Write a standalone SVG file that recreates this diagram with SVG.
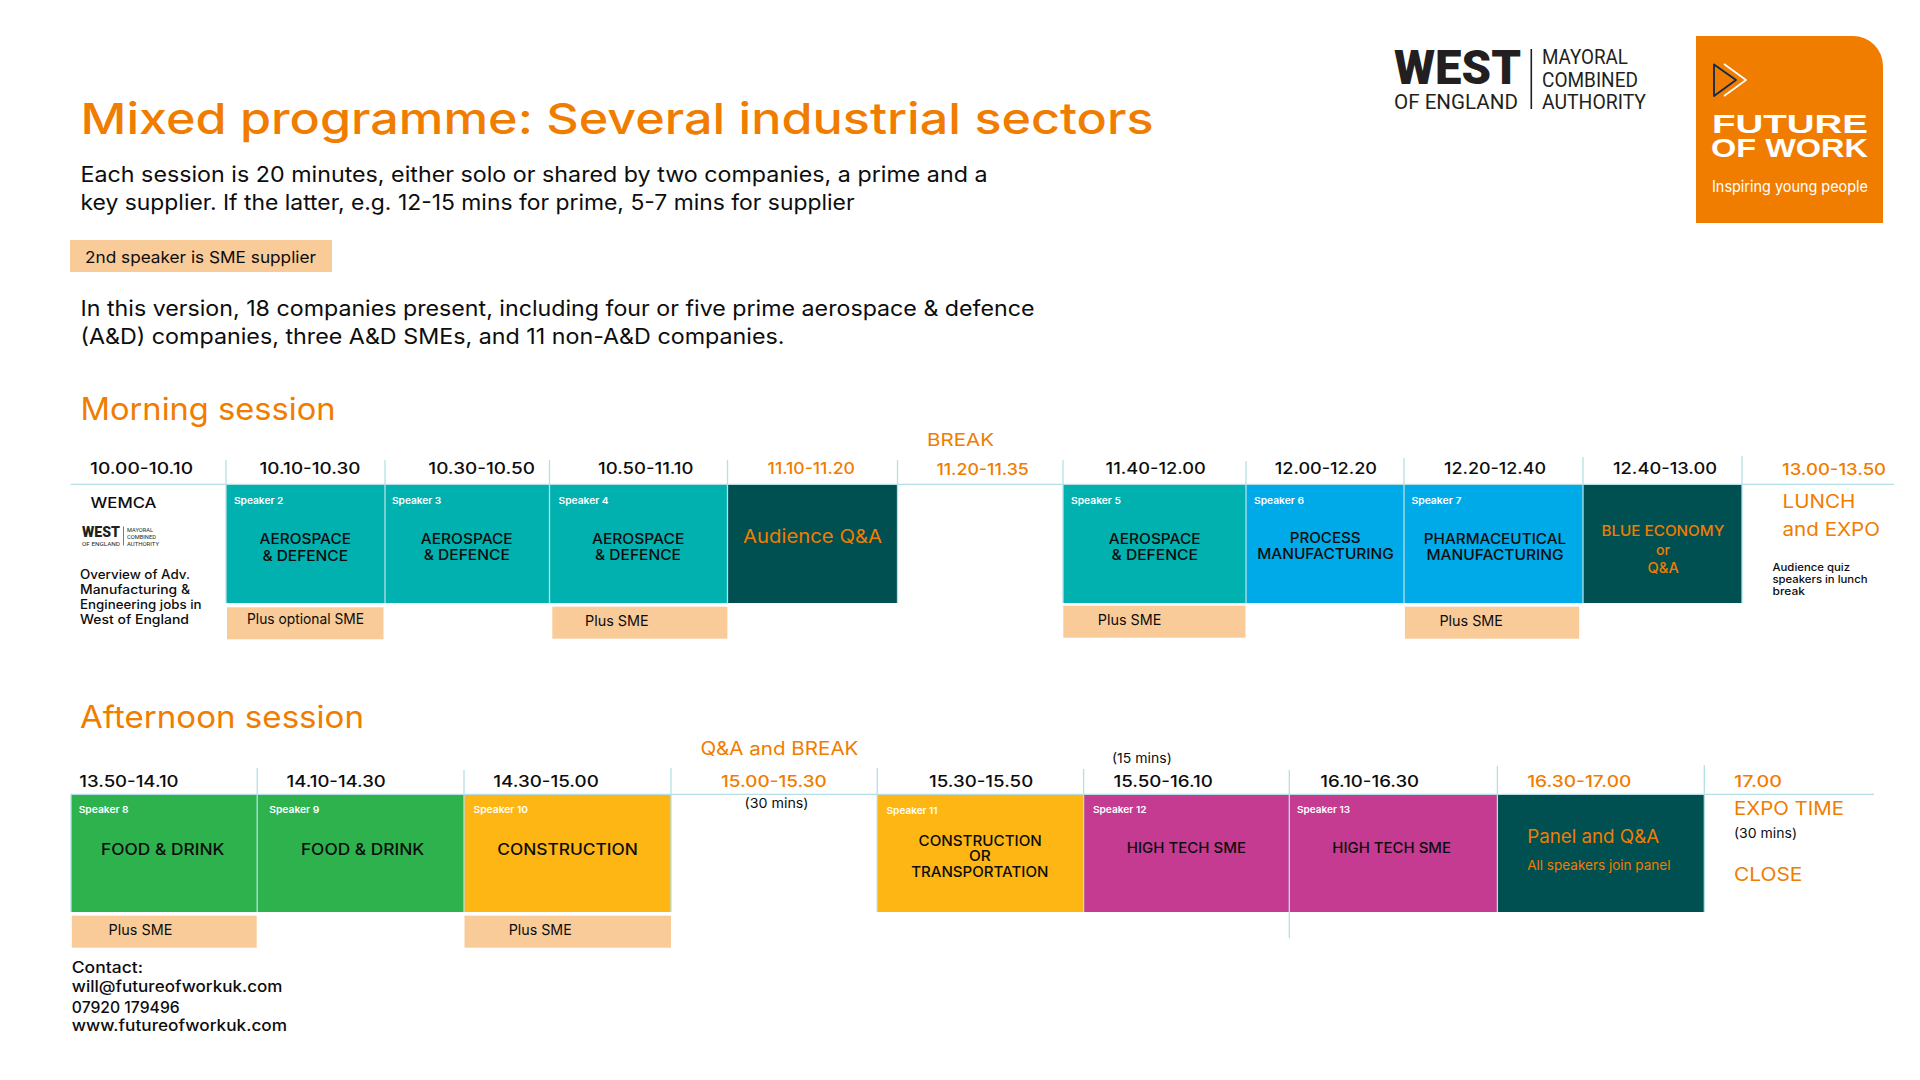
<svg xmlns="http://www.w3.org/2000/svg" width="1920" height="1080" viewBox="0 0 1920 1080">
<style>
text{font-family:"Inter","Liberation Sans",sans-serif;fill:#0d0d0d;font-weight:400;white-space:pre}
.o{fill:#f07d00}
.title{font-size:43px;font-weight:500}
.body{font-size:21.5px;font-weight:400}
.sec{font-size:31px;font-weight:400}
.time{font-size:16px;font-weight:500}
.spk{font-size:9.5px;font-weight:600;fill:#fff;transform:translateY(1px)}
.lab{font-size:14.5px;font-weight:500;transform:translateY(1px)}
.sme{font-size:14.5px}
.big{font-size:18.5px;transform:translateY(1px)}
.note{font-size:13.5px}
.ov{font-size:12.5px;font-weight:500;transform:translateY(1px)}
.quiz{font-size:10.5px;font-weight:500}
.con{font-size:15.5px;font-weight:500}
.logo{font-family:"Roboto","Liberation Sans",sans-serif;fill:#231f20}
.fow{font-family:"Liberation Sans",sans-serif;font-weight:700;fill:#fff}
.teal{fill:#00b1b0}.dark{fill:#004f51}.blue{fill:#00aae8}.green{fill:#2db24e}.amber{fill:#fdb614}.mag{fill:#c43b91}.smeb{fill:#f9cb99}
.grid{stroke:#b5e0e6;stroke-width:1.3;fill:none}
</style>

<g id="heading">
<text class="title o" x="80.500" y="134" textLength="1073" lengthAdjust="spacingAndGlyphs">Mixed programme: Several industrial sectors</text>
<text class="body" x="80.500" y="182" textLength="907" lengthAdjust="spacingAndGlyphs">Each session is 20 minutes, either solo or shared by two companies, a prime and a</text>
<text class="body" x="80.500" y="210" textLength="774" lengthAdjust="spacingAndGlyphs">key supplier. If the latter, e.g. 12-15 mins for prime, 5-7 mins for supplier</text>
</g>
<g id="legend-sme">
<rect class="smeb" x="70" y="240" width="262" height="32"/>
<text class="lab" x="85" y="262" textLength="231" lengthAdjust="spacingAndGlyphs" style="font-size:16.5px;font-weight:400">2nd speaker is SME supplier</text>
</g>
<g id="intro">
<text class="body" x="80.500" y="316" textLength="954" lengthAdjust="spacingAndGlyphs">In this version, 18 companies present, including four or five prime aerospace &amp; defence</text>
<text class="body" x="80.500" y="344" textLength="704" lengthAdjust="spacingAndGlyphs">(A&amp;D) companies, three A&amp;D SMEs, and 11 non-A&amp;D companies.</text>
</g>

<g id="logo-west">
<text class="logo" x="1394" y="83.500" textLength="127" lengthAdjust="spacingAndGlyphs" style="font-size:48px;font-weight:900">WEST</text>
<text class="logo" x="1394" y="109" textLength="124" lengthAdjust="spacingAndGlyphs" style="font-size:20px;font-weight:400">OF ENGLAND</text>
<rect x="1530.500" y="49" width="1.600" height="60" fill="#231f20"/>
<text class="logo" x="1542" y="64" textLength="86" lengthAdjust="spacingAndGlyphs" style="font-size:20px;font-weight:400">MAYORAL</text>
<text class="logo" x="1542" y="87" textLength="96" lengthAdjust="spacingAndGlyphs" style="font-size:20px;font-weight:400">COMBINED</text>
<text class="logo" x="1542" y="109" textLength="104" lengthAdjust="spacingAndGlyphs" style="font-size:20px;font-weight:400">AUTHORITY</text>
</g>

<g id="logo-future-of-work">
<path d="M1696 36H1853A30 30 0 0 1 1883 66V223H1696Z" fill="#f07d00"/>
<path d="M1714 64.500L1736 80L1714 96Z" fill="none" stroke="#0e2a47" stroke-width="1.800" stroke-linejoin="round"/>
<path d="M1724 64L1746 80L1724 96" fill="none" stroke="#fff" stroke-width="1.800" stroke-linejoin="round"/>
<text class="fow" x="1712" y="132.500" textLength="156" lengthAdjust="spacingAndGlyphs" style="font-size:25px">FUTURE</text>
<text class="fow" x="1711" y="157" textLength="157" lengthAdjust="spacingAndGlyphs" style="font-size:25px">OF WORK</text>
<text x="1712" y="192" textLength="156" lengthAdjust="spacingAndGlyphs" style="font-size:15.500px;fill:#fff">Inspiring young people</text>
</g>

<text class="sec o" x="80.500" y="420" textLength="255" lengthAdjust="spacingAndGlyphs">Morning session</text>
<text class="big o" x="927" y="445" textLength="67" lengthAdjust="spacingAndGlyphs" style="font-size:17px">BREAK</text>

<g id="s1">
<text class="time" x="90" y="474" textLength="103" lengthAdjust="spacingAndGlyphs">10.00-10.10</text>
<text x="90.500" y="507.500" textLength="66" lengthAdjust="spacingAndGlyphs" style="font-size:14.500px;font-weight:500">WEMCA</text>
<g id="logo-west-small">
<text class="logo" x="82" y="537" textLength="38" lengthAdjust="spacingAndGlyphs" style="font-size:14px;font-weight:900">WEST</text>
<text class="logo" x="82" y="545.500" textLength="38" lengthAdjust="spacingAndGlyphs" style="font-size:6px">OF ENGLAND</text>
<rect x="123.300" y="526.500" width="0.600" height="19" fill="#231f20"/>
<text class="logo" x="127" y="531.500" textLength="26" lengthAdjust="spacingAndGlyphs" style="font-size:6px">MAYORAL</text>
<text class="logo" x="127" y="538.500" textLength="29" lengthAdjust="spacingAndGlyphs" style="font-size:6px">COMBINED</text>
<text class="logo" x="127" y="545.500" textLength="32" lengthAdjust="spacingAndGlyphs" style="font-size:6px">AUTHORITY</text>
</g>
<text class="ov" x="80" y="577.500" textLength="110" lengthAdjust="spacingAndGlyphs">Overview of Adv.</text>
<text class="ov" x="80" y="592.500" textLength="110" lengthAdjust="spacingAndGlyphs">Manufacturing &amp;</text>
<text class="ov" x="80" y="607.500" textLength="121.500" lengthAdjust="spacingAndGlyphs">Engineering jobs in</text>
<text class="ov" x="80" y="622.500" textLength="109" lengthAdjust="spacingAndGlyphs">West of England</text>
</g>

<g id="s2">
<rect class="teal" x="226" y="484" width="159" height="119"/>
<text class="time" x="259.500" y="474" textLength="101" lengthAdjust="spacingAndGlyphs">10.10-10.30</text>
<text class="spk" x="234" y="503" textLength="49.300" lengthAdjust="spacingAndGlyphs">Speaker 2</text>
<text class="lab" x="259.500" y="543" textLength="91.500" lengthAdjust="spacingAndGlyphs">AEROSPACE</text>
<text class="lab" x="262.400" y="559.700" textLength="85.600" lengthAdjust="spacingAndGlyphs">&amp; DEFENCE</text>
<rect class="smeb" x="227" y="607.300" width="156.500" height="32"/>
<text class="sme" x="247" y="624" textLength="117" lengthAdjust="spacingAndGlyphs">Plus optional SME</text>
</g>
<g id="s3">
<rect class="teal" x="385" y="484" width="165" height="119"/>
<text class="time" x="428.300" y="474" textLength="106.700" lengthAdjust="spacingAndGlyphs">10.30-10.50</text>
<text class="spk" x="392" y="503" textLength="49.300" lengthAdjust="spacingAndGlyphs">Speaker 3</text>
<text class="lab" x="420.800" y="543" textLength="91.900" lengthAdjust="spacingAndGlyphs">AEROSPACE</text>
<text class="lab" x="423.700" y="558.700" textLength="86.100" lengthAdjust="spacingAndGlyphs">&amp; DEFENCE</text>
</g>
<g id="s4">
<rect class="teal" x="549.500" y="484" width="178" height="119"/>
<text class="time" x="598" y="474" textLength="95.500" lengthAdjust="spacingAndGlyphs">10.50-11.10</text>
<text class="spk" x="558.600" y="503" textLength="50" lengthAdjust="spacingAndGlyphs">Speaker 4</text>
<text class="lab" x="591.900" y="543" textLength="92.400" lengthAdjust="spacingAndGlyphs">AEROSPACE</text>
<text class="lab" x="595" y="558.700" textLength="86" lengthAdjust="spacingAndGlyphs">&amp; DEFENCE</text>
<rect class="smeb" x="552.300" y="606.700" width="175.100" height="32"/>
<text class="sme" x="585" y="626" textLength="63.700" lengthAdjust="spacingAndGlyphs">Plus SME</text>
</g>
<g id="qa1">
<rect class="dark" x="727.500" y="484" width="170" height="119"/>
<text class="time o" x="767.600" y="474" textLength="87.400" lengthAdjust="spacingAndGlyphs">11.10-11.20</text>
<text class="big o" x="743" y="542" textLength="139" lengthAdjust="spacingAndGlyphs">Audience Q&amp;A</text>
</g>
<g id="break1">
<text class="time o" x="936.400" y="475" textLength="92.400" lengthAdjust="spacingAndGlyphs">11.20-11.35</text>
</g>
<g id="s5">
<rect class="teal" x="1063" y="484" width="183" height="119"/>
<text class="time" x="1105.600" y="474" textLength="100.200" lengthAdjust="spacingAndGlyphs">11.40-12.00</text>
<text class="spk" x="1071" y="503" textLength="50" lengthAdjust="spacingAndGlyphs">Speaker 5</text>
<text class="lab" x="1108.800" y="543" textLength="91.800" lengthAdjust="spacingAndGlyphs">AEROSPACE</text>
<text class="lab" x="1111.500" y="558.700" textLength="86.500" lengthAdjust="spacingAndGlyphs">&amp; DEFENCE</text>
<rect class="smeb" x="1063.300" y="605.700" width="182.200" height="32"/>
<text class="sme" x="1097.800" y="624.700" textLength="63.700" lengthAdjust="spacingAndGlyphs">Plus SME</text>
</g>
<g id="s6">
<rect class="blue" x="1246" y="484" width="158" height="119"/>
<text class="time" x="1274.800" y="474" textLength="102.200" lengthAdjust="spacingAndGlyphs">12.00-12.20</text>
<text class="spk" x="1254" y="503" textLength="50" lengthAdjust="spacingAndGlyphs">Speaker 6</text>
<text class="lab" x="1289.700" y="541.700" textLength="70.900" lengthAdjust="spacingAndGlyphs">PROCESS</text>
<text class="lab" x="1257.200" y="557.700" textLength="136.600" lengthAdjust="spacingAndGlyphs">MANUFACTURING</text>
</g>
<g id="s7">
<rect class="blue" x="1404" y="484" width="179" height="119"/>
<text class="time" x="1444" y="474" textLength="102" lengthAdjust="spacingAndGlyphs">12.20-12.40</text>
<text class="spk" x="1411.400" y="503" textLength="50" lengthAdjust="spacingAndGlyphs">Speaker 7</text>
<text class="lab" x="1423.700" y="543" textLength="142.500" lengthAdjust="spacingAndGlyphs">PHARMACEUTICAL</text>
<text class="lab" x="1426.400" y="559" textLength="137.200" lengthAdjust="spacingAndGlyphs">MANUFACTURING</text>
<rect class="smeb" x="1404.900" y="606.700" width="174.300" height="32"/>
<text class="sme" x="1439.400" y="626" textLength="63.600" lengthAdjust="spacingAndGlyphs">Plus SME</text>
</g>
<g id="qa2">
<rect class="dark" x="1583" y="484" width="159" height="119"/>
<text class="time" x="1613" y="474" textLength="104" lengthAdjust="spacingAndGlyphs">12.40-13.00</text>
<text class="lab o" x="1601.400" y="535" textLength="122.900" lengthAdjust="spacingAndGlyphs">BLUE ECONOMY</text>
<text class="lab o" x="1656" y="554.300" textLength="14" lengthAdjust="spacingAndGlyphs">or</text>
<text class="lab o" x="1647.600" y="572" textLength="31.200" lengthAdjust="spacingAndGlyphs">Q&amp;A</text>
</g>
<g id="lunch">
<text class="time o" x="1782" y="475" textLength="104" lengthAdjust="spacingAndGlyphs">13.00-13.50</text>
<text class="big o" x="1782.500" y="507" textLength="72.800" lengthAdjust="spacingAndGlyphs">LUNCH</text>
<text class="big o" x="1782.500" y="535" textLength="97.500" lengthAdjust="spacingAndGlyphs">and EXPO</text>
<text class="quiz" x="1772.500" y="571" textLength="77.500" lengthAdjust="spacingAndGlyphs">Audience quiz</text>
<text class="quiz" x="1772.500" y="583" textLength="95" lengthAdjust="spacingAndGlyphs">speakers in lunch</text>
<text class="quiz" x="1772.500" y="595" textLength="32.500" lengthAdjust="spacingAndGlyphs">break</text>
</g>

<text class="sec o" x="80" y="728" textLength="284" lengthAdjust="spacingAndGlyphs">Afternoon session</text>
<text class="big o" x="700.400" y="754" textLength="158" lengthAdjust="spacingAndGlyphs" style="font-size:18px">Q&amp;A and BREAK</text>

<g id="s8">
<rect class="green" x="71" y="794" width="186" height="118"/>
<text class="time" x="79.300" y="786.700" textLength="99.300" lengthAdjust="spacingAndGlyphs">13.50-14.10</text>
<text class="spk" x="78.700" y="811.800" textLength="50" lengthAdjust="spacingAndGlyphs">Speaker 8</text>
<text class="lab" x="101" y="854" textLength="123.500" lengthAdjust="spacingAndGlyphs" style="font-size:15.500px">FOOD &amp; DRINK</text>
<rect class="smeb" x="71.800" y="915.700" width="184.900" height="32"/>
<text class="sme" x="108.600" y="935" textLength="63.700" lengthAdjust="spacingAndGlyphs">Plus SME</text>
</g>
<g id="s9">
<rect class="green" x="257" y="794" width="207" height="118"/>
<text class="time" x="286.500" y="786.700" textLength="99.300" lengthAdjust="spacingAndGlyphs">14.10-14.30</text>
<text class="spk" x="269.300" y="811.800" textLength="50" lengthAdjust="spacingAndGlyphs">Speaker 9</text>
<text class="lab" x="300.900" y="854" textLength="123.400" lengthAdjust="spacingAndGlyphs" style="font-size:15.500px">FOOD &amp; DRINK</text>
</g>
<g id="s10">
<rect class="amber" x="464" y="794" width="207" height="118"/>
<text class="time" x="493.200" y="786.700" textLength="105.600" lengthAdjust="spacingAndGlyphs">14.30-15.00</text>
<text class="spk" x="473.600" y="811.800" textLength="54.400" lengthAdjust="spacingAndGlyphs">Speaker 10</text>
<text class="lab" x="497.200" y="854" textLength="140.600" lengthAdjust="spacingAndGlyphs" style="font-size:15.500px">CONSTRUCTION</text>
<rect class="smeb" x="464.500" y="915.700" width="206.500" height="32"/>
<text class="sme" x="508.700" y="935" textLength="63.100" lengthAdjust="spacingAndGlyphs">Plus SME</text>
</g>
<g id="break2">
<text class="time o" x="721" y="786.700" textLength="105.700" lengthAdjust="spacingAndGlyphs">15.00-15.30</text>
<text class="note" x="744.500" y="807.700" textLength="64" lengthAdjust="spacingAndGlyphs">(30 mins)</text>
</g>
<g id="s11">
<rect class="amber" x="877" y="794" width="206.500" height="118"/>
<text class="time" x="929" y="786.700" textLength="104.200" lengthAdjust="spacingAndGlyphs">15.30-15.50</text>
<text class="spk" x="886.600" y="812.800" textLength="51" lengthAdjust="spacingAndGlyphs">Speaker 11</text>
<text class="lab" x="918.500" y="845" textLength="123.300" lengthAdjust="spacingAndGlyphs">CONSTRUCTION</text>
<text class="lab" x="968.900" y="860" textLength="21.800" lengthAdjust="spacingAndGlyphs">OR</text>
<text class="lab" x="911.200" y="876" textLength="137.200" lengthAdjust="spacingAndGlyphs">TRANSPORTATION</text>
</g>
<g id="s12">
<rect class="mag" x="1083.500" y="794" width="206" height="118"/>
<text class="note" x="1112" y="763.300" textLength="59.800" lengthAdjust="spacingAndGlyphs">(15 mins)</text>
<text class="time" x="1113.400" y="786.700" textLength="99.500" lengthAdjust="spacingAndGlyphs">15.50-16.10</text>
<text class="spk" x="1092.900" y="812.200" textLength="53.700" lengthAdjust="spacingAndGlyphs">Speaker 12</text>
<text class="lab" x="1126.700" y="852" textLength="119.300" lengthAdjust="spacingAndGlyphs">HIGH TECH SME</text>
</g>
<g id="s13">
<rect class="mag" x="1289.500" y="794" width="208" height="118"/>
<text class="time" x="1320.300" y="786.700" textLength="98.800" lengthAdjust="spacingAndGlyphs">16.10-16.30</text>
<text class="spk" x="1297.100" y="812.200" textLength="52.900" lengthAdjust="spacingAndGlyphs">Speaker 13</text>
<text class="lab" x="1332.300" y="852" textLength="118.700" lengthAdjust="spacingAndGlyphs">HIGH TECH SME</text>
</g>
<g id="panel">
<rect class="dark" x="1497.500" y="794" width="207" height="118"/>
<text class="time o" x="1527.200" y="786.500" textLength="104.100" lengthAdjust="spacingAndGlyphs">16.30-17.00</text>
<text class="big o" x="1527.200" y="841.700" textLength="132" lengthAdjust="spacingAndGlyphs">Panel and Q&amp;A</text>
<text class="note o" x="1527.200" y="870" textLength="143.300" lengthAdjust="spacingAndGlyphs">All speakers join panel</text>
</g>
<g id="close">
<text class="time o" x="1734" y="786.500" textLength="47.900" lengthAdjust="spacingAndGlyphs">17.00</text>
<text class="big o" x="1734" y="813.700" textLength="110" lengthAdjust="spacingAndGlyphs">EXPO TIME</text>
<text class="note" x="1734" y="838.300" textLength="63" lengthAdjust="spacingAndGlyphs">(30 mins)</text>
<text class="big o" x="1734" y="879.700" textLength="68.400" lengthAdjust="spacingAndGlyphs">CLOSE</text>
</g>

<g id="contact">
<text class="con" x="71.800" y="973" textLength="71.200" lengthAdjust="spacingAndGlyphs">Contact:</text>
<text class="con" x="71.800" y="992" textLength="210.700" lengthAdjust="spacingAndGlyphs">will@futureofworkuk.com</text>
<text class="con" x="71.800" y="1012.500" textLength="107.900" lengthAdjust="spacingAndGlyphs">07920 179496</text>
<text class="con" x="71.800" y="1031.300" textLength="215.200" lengthAdjust="spacingAndGlyphs">www.futureofworkuk.com</text>
</g>

<g id="connectors" class="grid">
<path d="M70.700 484.300H1894M226 460V603M385 460V603M549.500 460V603M727.500 460V603M897.500 460V603M1063 460V603M1246 461V603M1404 458V603M1583 457V603M1742 456V603"/>
<path d="M70.700 794.300H1874M71 794V912M257.200 768V912M464 770V912M671 768V912M877.200 768V912M1083.600 769V912M1289.300 770V938M1497.400 766V912M1704.300 765V912"/>
</g>
</svg>
